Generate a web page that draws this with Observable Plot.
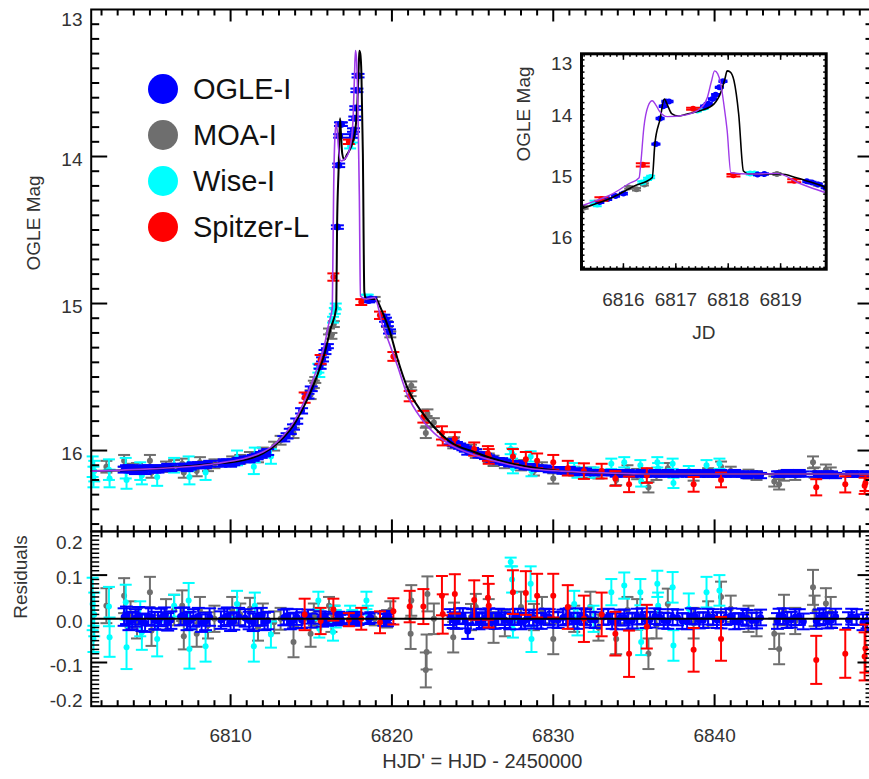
<!DOCTYPE html>
<html><head><meta charset="utf-8">
<script src="https://cdn.jsdelivr.net/npm/d3@7"></script>
<script src="https://cdn.jsdelivr.net/npm/@observablehq/plot@0.6"></script>
<style>
html,body{margin:0;padding:0;background:#fff;}
#chart{position:relative;width:869px;height:779px;overflow:hidden;font-family:"Liberation Sans",Arial,sans-serif;}
#chart svg{position:absolute;left:0;top:0;background:transparent;}
#legend{position:absolute;left:148px;top:66px;}
.row{display:flex;align-items:center;height:46px;}
.sw{width:30px;height:30px;border-radius:50%;margin-right:15px;flex:none;}
.lab{font-size:29px;color:#111;line-height:1;}
</style></head><body><div id="chart"></div>
<script>
// ---------- data: [HJD', OGLE mag, mag error, residual, residual error (optional)] ----------
const ogle = [
[6803.4,16.13,.02,.004],[6803.55,16.12,.02,.008],[6803.7,16.12,.02,-.006],[6803.9,16.13,.02,-.004],[6804.1,16.14,.02,.002],
[6804.3,16.12,.02,.007],[6804.5,16.13,.02,-.008],[6804.7,16.14,.02,-.01],[6804.9,16.12,.02,.006],[6805.1,16.12,.02,.004],
[6805.3,16.13,.02,-.004],[6805.5,16.13,.02,-.005],[6805.7,16.12,.02,.003],[6805.9,16.12,.02,.006],[6806.1,16.11,.02,-.007],
[6806.3,16.12,.02,-.003],[6806.9,16.11,.02,.005],[6807.1,16.11,.02,.006],[6807.3,16.12,.02,-.006],[6807.5,16.11,.02,-.004],
[6807.7,16.10,.02,.002],[6808.0,16.10,.02,.005],[6808.2,16.10,.02,-.01],[6808.45,16.10,.02,-.006],[6808.7,16.09,.02,.004],
[6809.4,16.09,.02,-.003],[6809.6,16.08,.02,.003],[6809.8,16.08,.02,.006],[6810.0,16.09,.02,-.008],[6810.2,16.08,.02,-.005],
[6810.5,16.07,.02,.005],[6810.9,16.06,.02,.002],[6811.15,16.06,.02,-.004],[6811.4,16.05,.02,-.008],[6811.65,16.04,.02,.004],
[6811.9,16.03,.02,.005],[6812.1,16.02,.02,-.006],[6812.3,16.01,.02,-.004],[6813.3,15.92,.018,.003],[6813.5,15.90,.018,.005],
[6813.7,15.87,.018,-.006],[6813.9,15.84,.018,-.004],[6814.1,15.80,.018,.004],[6814.4,15.73,.018,-.003],
[6814.8,15.63,.016,.005],[6815.0,15.58,.016,-.004],[6815.55,15.43,.014,.003],[6815.7,15.38,.014,-.004],
[6815.85,15.33,.014,.002],[6816.0,15.29,.014,-.002],[6816.62,14.48,.012,.0],[6816.7,14.06,.012,.004],
[6816.76,13.86,.012,-.003],[6816.81,13.78,.012,.002],[6816.87,13.78,.012,-.002],[6817.55,13.86,.012,.003],
[6817.62,13.82,.012,-.002],[6817.7,13.74,.012,.004],[6817.76,13.67,.012,-.004],[6817.83,13.55,.012,.002],
[6817.9,13.45,.012,-.002],[6818.56,14.98,.012,.0],[6818.69,14.97,.012,.003],[6819.5,15.09,.014,-.002],
[6819.6,15.11,.014,.004],[6819.72,15.14,.014,-.003],[6819.85,15.19,.014,.002],[6823.6,15.94,.018,.004],
[6823.8,15.95,.018,-.003],[6824.0,15.96,.018,-.005],[6824.2,15.97,.018,.006],[6824.4,15.98,.018,.006],
[6824.55,15.99,.018,-.004],[6824.7,16.01,.018,-.028],[6825.0,16.00,.018,.004],[6825.2,16.01,.018,.005],
[6825.4,16.03,.018,-.006],[6825.6,16.03,.018,-.003],[6825.8,16.04,.018,.003],[6826.0,16.05,.018,.006],
[6826.2,16.06,.018,-.004],[6826.4,16.07,.018,-.005],[6826.6,16.07,.018,.005],[6826.8,16.07,.018,.004],
[6827.0,16.08,.018,-.003],[6827.3,16.09,.018,-.006],[6827.6,16.09,.018,.004],[6827.8,16.09,.018,.005],
[6828.0,16.10,.018,-.006],[6828.25,16.11,.018,-.004],[6828.5,16.11,.018,.002],[6828.75,16.11,.018,.003],
[6829.0,16.12,.018,-.004],[6829.25,16.12,.018,-.005],[6829.5,16.12,.018,.005],[6829.75,16.13,.018,.004],
[6830.0,16.13,.018,-.002],[6830.3,16.13,.018,-.003],[6830.6,16.14,.018,.003],[6830.8,16.14,.018,.005],
[6831.0,16.13,.018,.006],[6831.25,16.14,.018,-.004],[6831.5,16.15,.018,-.005],[6831.75,16.14,.018,.006],
[6832.0,16.14,.018,.004],[6832.3,16.15,.018,-.002],[6832.6,16.15,.018,-.003],[6833.1,16.15,.018,.004],
[6833.4,16.15,.018,.005],[6833.65,16.15,.018,-.005],[6833.9,16.16,.018,-.006],[6834.15,16.16,.018,.003],
[6834.4,16.15,.018,.003],[6834.65,16.15,.018,-.006],[6834.9,16.16,.018,-.004],[6835.2,16.16,.018,.005],
[6835.5,16.15,.018,.006],[6835.75,16.16,.018,-.003],[6836.0,16.16,.018,-.002],[6836.3,16.15,.018,.006],
[6836.6,16.16,.018,.004],[6836.85,16.16,.018,-.004],[6837.1,16.15,.018,-.005],[6837.4,16.16,.018,.004],
[6837.7,16.16,.018,.003],[6838.0,16.15,.018,-.005],[6838.3,16.16,.018,-.006],[6838.55,16.16,.018,.006],
[6838.8,16.15,.018,.005],[6839.05,16.16,.018,-.004],[6839.3,16.16,.018,-.003],[6839.6,16.15,.018,.005],
[6839.9,16.16,.018,.004],[6840.15,16.16,.018,-.003],[6840.4,16.15,.018,-.004],[6840.7,16.16,.018,.004],
[6841.0,16.16,.018,.006],[6841.25,16.15,.018,-.006],[6841.5,16.16,.018,-.005],[6841.75,16.16,.018,.005],
[6842.0,16.17,.018,.002],[6842.3,16.16,.018,-.004],[6842.6,16.16,.018,-.004],[6842.85,16.17,.018,.003],
[6843.9,16.16,.018,-.005],[6844.0,16.16,.018,.005],[6844.25,16.16,.018,.006],[6844.5,16.15,.018,-.003],
[6844.75,16.16,.018,-.002],[6845.0,16.16,.018,.004],[6845.25,16.15,.018,.004],[6845.5,16.16,.018,-.006],
[6846.3,16.16,.018,-.005],[6846.5,16.16,.018,.003],[6846.75,16.17,.018,.006],[6847.0,16.16,.018,-.004],
[6847.25,16.16,.018,-.003],[6847.5,16.17,.018,.005],[6848.3,16.16,.018,-.003],[6848.5,16.16,.018,.005],
[6848.8,16.16,.018,.004],[6849.2,16.16,.018,-.008],[6849.45,16.16,.018,-.004]
];
const moa = [
[6802.3,16.11,.04,.03,.04],[6803.4,16.07,.04,.053,.04],[6803.8,16.12,.03,.01,.03],[6804.2,16.12,.035,-.01,.035],[6805.0,16.07,.04,.061,.035],
[6805.1,16.15,.035,-.027,.035],[6806.0,16.11,.035,.01,.035],[6806.5,16.10,.035,.02,.035],[6807.0,16.09,.035,.03,.035],[6807.1,16.15,.035,-.04,.03],
[6807.9,16.14,.035,-.034,.03],[6808.1,16.08,.035,.02,.03],[6808.6,16.11,.03,-.015,.03],[6809.0,16.09,.03,.0,.03],[6810.1,16.07,.03,.02,.03],
[6810.6,16.06,.03,.01,.025],[6811.2,16.04,.03,.023,.025],[6811.7,16.05,.03,-.02,.03],[6812.0,16.01,.03,.01,.025],[6812.7,15.97,.03,-.008,.025],
[6813.1,15.93,.03,.0,.025],[6813.9,15.88,.035,-.053,.035],[6814.96,15.62,.03,-.034,.03],[6815.16,15.55,.025,.01,.025],[6815.25,15.52,.02,.0,.02],
[6816.1,15.19,.02,.03,.02],[6816.25,15.22,.02,-.01,.02],[6816.4,15.14,.02,.01,.02],[6818.93,14.97,.015,.0,.015],
[6819.7,15.14,.02,.0,.02],[6819.9,15.21,.02,.02,.02],[6821.16,15.60,.03,-.034,.035],[6821.2,15.56,.03,.042,.035],
[6822.1,15.88,.035,-.117,.04],[6822.15,15.80,.035,-.076,.04],[6822.2,15.75,.03,.057,.04],[6822.6,15.81,.03,.0,.035],
[6823.8,15.95,.035,-.042,.035],[6823.85,15.94,.03,.007,.03],[6824.9,15.99,.03,.004,.03],[6825.2,16.02,.03,.027,.03],
[6826.0,16.05,.03,.015,.03],[6826.3,16.07,.035,-.02,.035],[6827.0,16.09,.03,-.01,.03],[6828.0,16.10,.035,.027,.035],[6828.8,16.14,.03,.004,.03],
[6829.3,16.11,.03,.02,.03],[6830.0,16.19,.035,-.046,.035],[6831.3,16.14,.03,.0,.03],[6832.3,16.15,.035,.027,.035],[6832.8,16.16,.03,-.02,.03],
[6833.9,16.20,.035,-.046,.035],[6834.6,16.13,.03,.02,.03],[6835.2,16.16,.035,.01,.035],[6835.9,16.25,.035,-.08,.035],[6836.4,16.17,.03,-.015,.03],
[6837.1,16.12,.035,.034,.035],[6838.7,16.17,.035,-.01,.035],[6839.6,16.15,.03,.01,.03],[6840.4,16.11,.035,.05,.035],
[6841.0,16.14,.03,.023,.03],[6842.1,16.16,.03,.0,.03],[6842.6,16.17,.03,-.01,.03],[6843.7,16.21,.035,-.034,.035],[6844.0,16.23,.035,-.069,.035],
[6844.3,16.17,.035,.02,.035],[6845.0,16.17,.03,-.005,.03],[6846.1,16.08,.04,.072,.04],[6846.2,16.15,.035,.018,.035],[6846.9,16.13,.035,.035,.035],
[6847.2,16.15,.035,.015,.035]
];
const wise = [
[6801.45,16.11,.07,.034,.06],[6801.5,16.18,.07,-.046,.03],[6801.55,16.14,.07,.01,.05],[6802.46,16.13,.07,.028,.045],
[6802.5,16.19,.06,-.042,.045],[6803.5,16.12,.07,.038,.04],[6803.55,16.20,.06,-.065,.05],[6804.4,16.14,.06,.0,.04],
[6804.5,16.17,.06,-.031,.04],[6805.45,16.18,.06,-.046,.04],[6806.5,16.10,.05,.03,.025],[6807.4,16.09,.05,.042,.04],
[6807.45,16.18,.05,-.069,.045],[6808.45,16.15,.05,-.063,.035],[6810.4,16.05,.05,.034,.03],[6811.44,16.11,.05,-.063,.035],
[6811.5,16.03,.05,.03,.03],[6812.5,16.04,.05,-.036,.03],[6815.44,15.44,.03,.042,.02],[6815.5,15.47,.03,-.023,.02],
[6816.35,15.11,.02,-.03,.02],[6816.46,15.05,.02,.01,.02],[6816.52,15.02,.02,.0,.02],[6817.41,13.93,.015,.015,.015],
[6817.54,13.89,.015,.005,.015],[6818.42,14.96,.02,.042,.02],[6818.5,14.96,.02,.01,.02],[6827.36,15.99,.035,.13,.01],
[6827.45,16.02,.035,.09,.03],[6827.5,16.12,.035,-.023,.02],[6828.6,16.04,.035,.08,.04],[6828.65,16.14,.035,-.046,.03],
[6831.3,16.12,.035,.034,.03],[6831.5,16.15,.035,-.008,.03],[6832.5,16.15,.035,.0,.03],[6833.6,16.09,.035,.061,.03],
[6834.4,16.08,.035,.076,.03],[6835.4,16.10,.035,.061,.03],[6835.45,16.21,.035,-.053,.03],[6836.45,16.08,.035,.08,.03],
[6836.5,16.12,.035,.03,.03],[6837.4,16.09,.035,.072,.035],[6837.45,16.22,.035,-.061,.035],[6838.4,16.14,.035,.023,.035],
[6839.5,16.10,.035,.061,.035],[6840.3,16.09,.035,.065,.035]
];
const spitzer = [
[6814.59,15.64,.035,.01,.036],[6815.58,15.38,.03,-.005,.03],[6816.37,14.82,.025,.021,.025],[6817.33,13.90,.015,-.002,.015],
[6818.1,14.99,.02,.0,.025],[6819.26,15.08,.025,-.008,.025],[6820.09,15.36,.03,.017,.03],[6821.1,15.63,.035,.028,.036],
[6821.95,15.77,.04,.028,.04],[6823.1,15.88,.045,.053,.045],[6823.15,15.92,.045,.011,.045],[6823.9,15.92,.045,.057,.045],
[6825.1,15.99,.045,.043,.045],[6825.95,16.02,.05,.048,.05],[6826.0,16.04,.05,.03,.05],[6827.5,16.04,.05,.061,.05],
[6828.3,16.06,.05,.059,.05],[6829.0,16.07,.05,.053,.05],[6830.0,16.08,.05,.053,.05],[6830.9,16.12,.05,.027,.05],
[6831.9,16.14,.053,.0,.053],[6833.0,16.14,.05,.01,.05],[6833.85,16.19,.05,-.034,.05],[6834.7,16.23,.053,-.08,.053],
[6835.8,16.17,.05,-.018,.05],[6838.7,16.23,.05,-.071,.05],[6840.4,16.20,.05,-.046,.05],[6846.3,16.25,.055,-.094,.055],
[6848.1,16.23,.055,-.08,.055],[6849.3,16.24,.055,-.086,.055],[6849.35,16.22,.055,-.068,.055]
];
// model light curves
const blackT = [6801.36,6803,6805,6807,6809,6810,6811,6812,6813,6814,6814.5,6815,6815.4,6815.8,6816.2,6816.55,6816.6,6816.7,6816.78,6816.84,6816.92,6817.05,6817.2,6817.48,6817.73,6817.86,6817.94,6817.98,6818.04,6818.11,6818.2,6818.29,6818.4,6818.75,6819.0,6819.3,6819.6,6819.87,6820.33,6820.95,6821.8,6822.6,6823.6,6825.1,6826.7,6828.4,6830.5,6832.5,6836,6849.85];
const blackMag = [16.14,16.135,16.125,16.11,16.09,16.08,16.06,16.02,15.94,15.81,15.71,15.59,15.48,15.35,15.17,15.03,14.48,14.07,13.74,13.84,13.98,14.02,13.99,13.93,13.82,13.63,13.40,13.28,13.30,13.44,13.99,14.92,14.97,14.97,14.97,15.03,15.11,15.19,15.37,15.57,15.73,15.84,15.94,16.01,16.07,16.11,16.14,16.15,16.16,16.16];
const purpleT = [6801.36,6805,6809,6812,6813,6814,6815,6815.4,6815.8,6816.1,6816.3,6816.33,6816.39,6816.47,6816.55,6816.62,6816.68,6816.84,6817.2,6817.48,6817.6,6817.68,6817.74,6817.8,6817.86,6817.92,6817.98,6818.05,6818.4,6818.93,6819.38,6819.87,6820.33,6820.95,6821.8,6822.6,6823.6,6825.1,6826.7,6828.4,6830.5,6832.5,6836,6849.85];
const purpleMag = [16.14,16.125,16.09,16.01,15.93,15.79,15.55,15.43,15.29,15.13,15.03,14.81,14.21,13.86,13.77,13.84,13.93,14.03,14.00,13.89,13.72,13.45,13.28,13.33,13.50,13.85,14.26,14.95,14.97,14.96,15.13,15.28,15.42,15.62,15.78,15.88,15.96,16.03,16.08,16.12,16.14,16.15,16.16,16.16];
// labels & ticks
const seriesNames = ["OGLE-I","MOA-I","Wise-I","Spitzer-L"];
const seriesColors = ["#0000ff","#6e6e6e","#00ffff","#ff0000"];
const magTicks = [13,14,15,16];
const resTicks = [-0.2,-0.1,0,0.1,0.2];
const dayTicks = [6810,6820,6830,6840];
const insetDayTicks = [6816,6817,6818,6819];
const xTitle = "HJD' = HJD - 2450000";
const yTitle = "OGLE Mag";
const resTitle = "Residuals";
const insetXTitle = "JD";

// ---------- build ----------
const W = 869, H = 779;
const INK = "#000", TXT = "#333";
const FONT = "'Liberation Sans', Arial, Helvetica, sans-serif";
const rec = a => ({t:a[0], mag:a[1], err:a[2], res:a[3], rerr: a.length > 4 ? a[4] : a[2]});
const S = {
  ogle:{color:seriesColors[0], data:ogle.map(rec), cap:6.5, r:3.5},
  moa:{color:seriesColors[1], data:moa.map(rec), cap:6, r:3},
  wise:{color:seriesColors[2], data:wise.map(rec), cap:6, r:3},
  spitzer:{color:seriesColors[3], data:spitzer.map(rec), cap:6, r:3}
};
const order = [S.moa, S.wise, S.ogle, S.spitzer];
const black = blackT.map((t,i)=>({t, m:blackMag[i]}));
const purple = purpleT.map((t,i)=>({t, m:purpleMag[i]}));

const capSym = {draw(ctx,size){const r=Math.sqrt(size/Math.PI); ctx.moveTo(-r,0); ctx.lineTo(r,0);}};
const stub = (dx,dy)=>({draw(ctx,size){const r=Math.sqrt(size/Math.PI); ctx.moveTo(0,0); ctx.lineTo(dx*r,dy*r);}});

function ticks(vals, ch, len, sw, sides){
  const out=[];
  const defs={left:[1,0],right:[-1,0],top:[0,1],bottom:[0,-1]};
  for(const side of sides){
    const [dx,dy]=defs[side];
    out.push(Plot.dot(vals,{[ch]:d=>d, frameAnchor:side, symbol:stub(dx,dy), r:len, stroke:INK, strokeWidth:sw, fill:"none"}));
  }
  return out;
}
function errMarks(s, key, ekey, capR, dotR, clip){
  const d=s.data;
  return [
    Plot.ruleX(d,{x:"t", y1:v=>v[key]-v[ekey], y2:v=>v[key]+v[ekey], stroke:s.color, strokeWidth:2, clip}),
    Plot.dot(d,{x:"t", y:v=>v[key]-v[ekey], symbol:capSym, r:capR, stroke:s.color, strokeWidth:2, fill:"none", clip}),
    Plot.dot(d,{x:"t", y:v=>v[key]+v[ekey], symbol:capSym, r:capR, stroke:s.color, strokeWidth:2, fill:"none", clip}),
    Plot.dot(d,{x:"t", y:key, r:dotR, fill:s.color, stroke:"none", clip})
  ];
}
const notIn = (arr)=> v => !arr.some(a=>Math.abs(a-v)<1e-6);
const dayMinor = d3.range(6802,6850).filter(notIn(dayTicks));
const magMinor = d3.range(131,166).map(i=>i/10).filter(notIn(magTicks));
const resMinor = d3.range(-20,21).map(i=>i/100).filter(notIn(resTicks));
const xDomain = [6801.36, 6849.85];
const txt = (o)=>({fontSize:19, fill:TXT, ...o});
const chart = document.getElementById("chart");
const styleObj = {fontFamily:FONT, background:"transparent", overflow:"visible"};

// main panel
const main = Plot.plot({
  width:W, height:H, marginLeft:90.7, marginRight:-4, marginTop:9, marginBottom:H-530.9,
  style:styleObj,
  x:{domain:xDomain, axis:null},
  y:{domain:[16.55,13], axis:null},
  marks:[
    ...order.flatMap(s=>errMarks(s,"mag","err",s.cap,s.r,false)),
    Plot.line(black,{x:"t", y:"m", stroke:"#000", strokeWidth:2, curve:"monotone-x"}),
    Plot.line(purple,{x:"t", y:"m", stroke:"#9f3ae8", strokeWidth:1.6, curve:"monotone-x"}),
    ...ticks(magTicks.slice(1),"y",16,2,["left","right"]),
    ...ticks(magMinor,"y",8,2,["left","right"]),
    ...ticks(dayTicks,"x",12,2,["top","bottom"]),
    ...ticks(dayMinor,"x",6,2,["top","bottom"]),
    Plot.frame({stroke:INK, strokeWidth:2}),
    Plot.text(magTicks.slice(1), txt({y:d=>d, text:d=>String(d), frameAnchor:"left", textAnchor:"end", dx:-8.7, dy:3})),
    Plot.text(magTicks.slice(0,1), txt({y:d=>d, text:d=>String(d), frameAnchor:"left", textAnchor:"end", dx:-8.7, dy:10})),
    Plot.text([yTitle], txt({text:d=>d, frameAnchor:"left", rotate:-90, dx:-57.7}))
  ]
});

// residual panel
const resid = Plot.plot({
  width:W, height:H, marginLeft:90.7, marginRight:-4, marginTop:530.9, marginBottom:H-705.7,
  style:styleObj,
  x:{domain:xDomain, axis:null},
  y:{domain:[-0.2,0.2], axis:null},
  marks:[
    ...order.flatMap(s=>errMarks(s,"res","rerr",s.cap,s.r,false)),
    Plot.ruleY([0],{stroke:"#000", strokeWidth:2}),
    ...ticks([-0.1,0.1],"y",16,2,["left","right"]),
    ...ticks(resMinor,"y",8,1.5,["left","right"]),
    ...ticks(dayTicks,"x",12,2,["top","bottom"]),
    ...ticks(dayMinor,"x",6,2,["top","bottom"]),
    Plot.frame({stroke:INK, strokeWidth:2}),
    Plot.text([0.1,0,-0.1], txt({y:d=>d, text:d=>d.toFixed(1), frameAnchor:"left", textAnchor:"end", dx:-8.7, dy:3})),
    Plot.text([0.2], txt({y:d=>d, text:d=>d.toFixed(1), frameAnchor:"left", textAnchor:"end", dx:-8.7, dy:12})),
    Plot.text([-0.2], txt({y:d=>d, text:d=>d.toFixed(1), frameAnchor:"left", textAnchor:"end", dx:-8.7, dy:-5})),
    Plot.text(dayTicks, txt({x:d=>d, text:d=>String(d), frameAnchor:"bottom", lineAnchor:"top", dy:22.3})),
    Plot.text([xTitle], txt({text:d=>d, frameAnchor:"bottom", lineAnchor:"top", dy:48, fontSize:20})),
    Plot.text([resTitle], txt({text:d=>d, frameAnchor:"left", rotate:-90, dx:-70.7}))
  ]
});

// inset panel
const inset = Plot.plot({
  width:W, height:H, marginLeft:581, marginRight:W-825.7, marginTop:53.3, marginBottom:H-268.7,
  style:styleObj,
  x:{domain:[6815.2,6819.87], axis:null},
  y:{domain:[16.53,13], axis:null},
  marks:[
    Plot.frame({fill:"#fff", stroke:"none"}),
    ...order.flatMap(s=>errMarks(s,"mag","err", s===S.spitzer?7:4.5, 3, true)),
    Plot.line(black,{x:"t", y:"m", stroke:"#000", strokeWidth:1.6, curve:"monotone-x", clip:true}),
    Plot.line(purple,{x:"t", y:"m", stroke:"#9f3ae8", strokeWidth:1.4, curve:"monotone-x", clip:true}),
    ...ticks(d3.range(131,166).map(i=>i/10),"y",3,1.5,["left","right"]),
    ...ticks(d3.range(6815.25,6819.87,0.125),"x",3,1.5,["top","bottom"]),
    ...ticks(insetDayTicks,"x",6,1.5,["top","bottom"]),
    Plot.frame({stroke:INK, strokeWidth:3}),
    Plot.text(magTicks.slice(1), txt({y:d=>d, text:d=>String(d), frameAnchor:"left", textAnchor:"end", dx:-9.3, dy:1})),
    Plot.text(magTicks.slice(0,1), txt({y:d=>d, text:d=>String(d), frameAnchor:"left", textAnchor:"end", dx:-9.3, dy:10})),
    Plot.text(insetDayTicks, txt({x:d=>d, text:d=>String(d), frameAnchor:"bottom", lineAnchor:"top", dy:22.8})),
    Plot.text([insetXTitle], txt({text:d=>d, frameAnchor:"bottom", lineAnchor:"top", dy:55.8})),
    Plot.text([yTitle], txt({text:d=>d, frameAnchor:"left", rotate:-90, dx:-58}))
  ]
});

for (const p of [main, resid, inset]) { p.style.position="absolute"; p.style.left="0"; p.style.top="0"; p.style.maxWidth="none"; chart.appendChild(p); }

// legend
const leg = document.createElement("div"); leg.id="legend";
seriesNames.forEach((n,i)=>{
  const row=document.createElement("div"); row.className="row";
  const sw=document.createElement("div"); sw.className="sw"; sw.style.background=seriesColors[i];
  const lb=document.createElement("span"); lb.className="lab"; lb.textContent=n;
  row.appendChild(sw); row.appendChild(lb); leg.appendChild(row);
});
chart.appendChild(leg);
</script></body></html>
